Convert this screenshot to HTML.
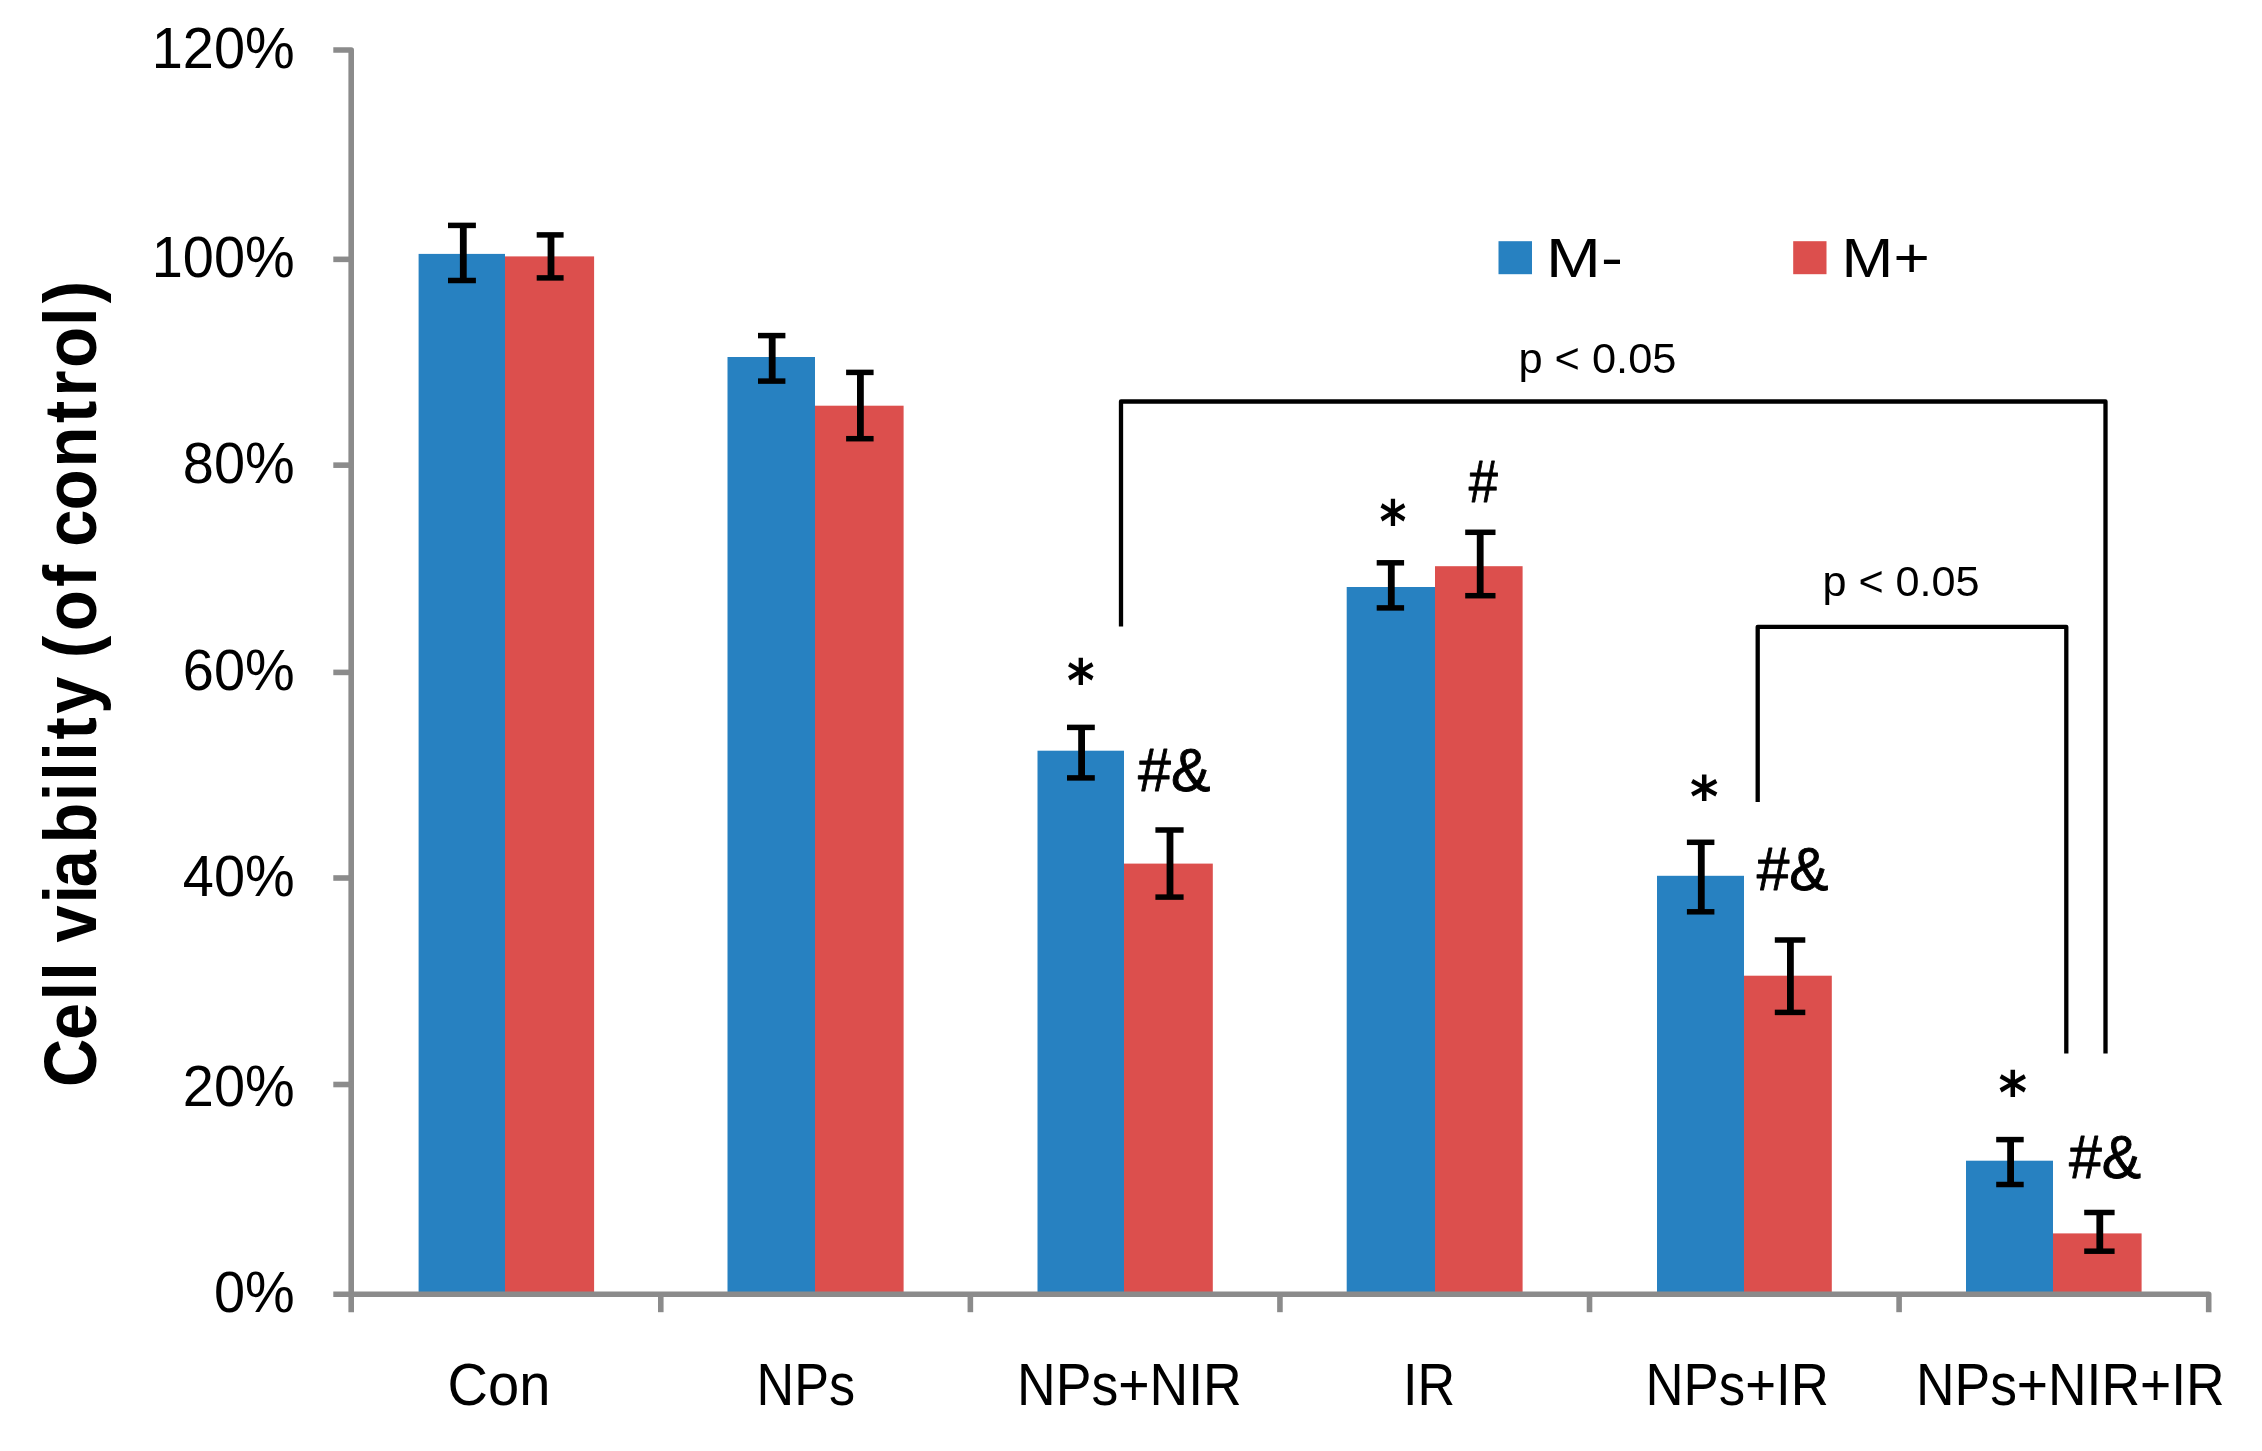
<!DOCTYPE html>
<html lang="en"><head><meta charset="utf-8"><title>Cell viability chart</title>
<style>html,body{margin:0;padding:0;background:#fff}body{width:2262px;height:1451px;overflow:hidden}svg{display:block;filter:blur(0.6px)}text{fill:#000}.ls{font-family:"Liberation Sans",sans-serif}.lsb{font-family:"Liberation Sans",sans-serif;font-weight:bold}.dv{font-family:"DejaVu Sans","Liberation Sans",sans-serif}.dvb{font-family:"DejaVu Sans","Liberation Sans",sans-serif;font-weight:bold}</style></head><body>
<svg width="2262" height="1451" viewBox="0 0 2262 1451">
<rect width="2262" height="1451" fill="#fff"/>
<g id="bars">
<rect x="418.6" y="253.9" width="86.4" height="1040.4" fill="#2781C1"/>
<rect x="505" y="256.4" width="89.1" height="1037.9" fill="#DC4F4D"/>
<rect x="727.5" y="357.0" width="87.5" height="937.3" fill="#2781C1"/>
<rect x="815" y="405.7" width="88.6" height="888.6" fill="#DC4F4D"/>
<rect x="1037.5" y="750.7" width="86.5" height="543.6" fill="#2781C1"/>
<rect x="1124" y="863.6" width="88.8" height="430.7" fill="#DC4F4D"/>
<rect x="1346.7" y="587.0" width="88.3" height="707.3" fill="#2781C1"/>
<rect x="1435" y="566.2" width="87.6" height="728.1" fill="#DC4F4D"/>
<rect x="1657.0" y="875.8" width="87.0" height="418.5" fill="#2781C1"/>
<rect x="1744" y="975.7" width="87.8" height="318.6" fill="#DC4F4D"/>
<rect x="1966.0" y="1160.7" width="87.0" height="133.6" fill="#2781C1"/>
<rect x="2053" y="1233.4" width="88.6" height="60.9" fill="#DC4F4D"/>
</g>
<g id="axes" stroke="#8b8b8b" stroke-width="5.6" fill="none" stroke-linejoin="round">
<polyline points="333.3,50.00 351.2,50.00 351.2,1312.2"/>
<polyline points="333.3,1294.3 2208.7,1294.3 2208.7,1312.2"/>
<line x1="333.3" y1="1084.50" x2="351.2" y2="1084.50"/>
<line x1="333.3" y1="878.00" x2="351.2" y2="878.00"/>
<line x1="333.3" y1="672.40" x2="351.2" y2="672.40"/>
<line x1="333.3" y1="465.15" x2="351.2" y2="465.15"/>
<line x1="333.3" y1="259.35" x2="351.2" y2="259.35"/>
<line x1="660.78" y1="1294.3" x2="660.78" y2="1312.2"/>
<line x1="970.36" y1="1294.3" x2="970.36" y2="1312.2"/>
<line x1="1279.94" y1="1294.3" x2="1279.94" y2="1312.2"/>
<line x1="1589.52" y1="1294.3" x2="1589.52" y2="1312.2"/>
<line x1="1899.10" y1="1294.3" x2="1899.10" y2="1312.2"/>
</g>
<g id="errors" stroke="#000" fill="none">
<line x1="463.3" y1="225.4" x2="463.3" y2="280.5" stroke-width="6.8"/>
<line x1="448.0" y1="225.4" x2="475.9" y2="225.4" stroke-width="5.5"/>
<line x1="448.0" y1="280.5" x2="475.9" y2="280.5" stroke-width="5.5"/>
<line x1="551.0" y1="234.9" x2="551.0" y2="277.9" stroke-width="6.8"/>
<line x1="536.7" y1="234.9" x2="563.6" y2="234.9" stroke-width="5.5"/>
<line x1="536.7" y1="277.9" x2="563.6" y2="277.9" stroke-width="5.5"/>
<line x1="772.2" y1="335.6" x2="772.2" y2="381.1" stroke-width="6.8"/>
<line x1="758.0" y1="335.6" x2="785.4" y2="335.6" stroke-width="5.5"/>
<line x1="758.0" y1="381.1" x2="785.4" y2="381.1" stroke-width="5.5"/>
<line x1="860.4" y1="372.4" x2="860.4" y2="438.7" stroke-width="6.8"/>
<line x1="846.1" y1="372.4" x2="873.6" y2="372.4" stroke-width="5.5"/>
<line x1="846.1" y1="438.7" x2="873.6" y2="438.7" stroke-width="5.5"/>
<line x1="1081.6" y1="727.4" x2="1081.6" y2="777.9" stroke-width="6.8"/>
<line x1="1067.0" y1="727.4" x2="1094.8" y2="727.4" stroke-width="5.5"/>
<line x1="1067.0" y1="777.9" x2="1094.8" y2="777.9" stroke-width="5.5"/>
<line x1="1170.0" y1="830.0" x2="1170.0" y2="897.1" stroke-width="6.8"/>
<line x1="1155.4" y1="830.0" x2="1183.6" y2="830.0" stroke-width="5.5"/>
<line x1="1155.4" y1="897.1" x2="1183.6" y2="897.1" stroke-width="5.5"/>
<line x1="1391.3" y1="562.8" x2="1391.3" y2="607.9" stroke-width="6.8"/>
<line x1="1376.7" y1="562.8" x2="1404.1" y2="562.8" stroke-width="5.5"/>
<line x1="1376.7" y1="607.9" x2="1404.1" y2="607.9" stroke-width="5.5"/>
<line x1="1480.2" y1="532.3" x2="1480.2" y2="595.7" stroke-width="6.8"/>
<line x1="1465.2" y1="532.3" x2="1495.5" y2="532.3" stroke-width="5.5"/>
<line x1="1465.2" y1="595.7" x2="1495.5" y2="595.7" stroke-width="5.5"/>
<line x1="1701.3" y1="842.3" x2="1701.3" y2="911.8" stroke-width="6.8"/>
<line x1="1686.9" y1="842.3" x2="1714.4" y2="842.3" stroke-width="5.5"/>
<line x1="1686.9" y1="911.8" x2="1714.4" y2="911.8" stroke-width="5.5"/>
<line x1="1790.4" y1="940.0" x2="1790.4" y2="1012.4" stroke-width="6.8"/>
<line x1="1774.8" y1="940.0" x2="1805.3" y2="940.0" stroke-width="5.5"/>
<line x1="1774.8" y1="1012.4" x2="1805.3" y2="1012.4" stroke-width="5.5"/>
<line x1="2010.6" y1="1139.6" x2="2010.6" y2="1184.5" stroke-width="6.8"/>
<line x1="1996.2" y1="1139.6" x2="2023.7" y2="1139.6" stroke-width="5.5"/>
<line x1="1996.2" y1="1184.5" x2="2023.7" y2="1184.5" stroke-width="5.5"/>
<line x1="2099.8" y1="1212.5" x2="2099.8" y2="1251.2" stroke-width="6.8"/>
<line x1="2084.2" y1="1212.5" x2="2114.6" y2="1212.5" stroke-width="5.5"/>
<line x1="2084.2" y1="1251.2" x2="2114.6" y2="1251.2" stroke-width="5.5"/>
</g>
<g id="brackets" stroke="#000" stroke-width="4.3" fill="none" stroke-linejoin="round">
<polyline points="1121,626.6 1121,401.5 2105.5,401.5 2105.5,1053.4"/>
<polyline points="1757.7,801.9 1757.7,626.8 2066.3,626.8 2066.3,1053.4"/>
</g>
<g id="ylabels">
<text class="ls" transform="translate(213.90 1312.22) scale(0.9698 1)" font-size="57.63" >0%</text>
<text class="ls" transform="translate(182.83 1105.62) scale(0.9698 1)" font-size="57.63" >20%</text>
<text class="ls" transform="translate(182.83 895.82) scale(0.9698 1)" font-size="57.63" >40%</text>
<text class="ls" transform="translate(182.83 690.02) scale(0.9698 1)" font-size="57.63" >60%</text>
<text class="ls" transform="translate(182.83 482.92) scale(0.9698 1)" font-size="57.63" >80%</text>
<text class="ls" transform="translate(151.75 276.92) scale(0.9698 1)" font-size="57.63" >100%</text>
<text class="ls" transform="translate(151.75 68.12) scale(0.9698 1)" font-size="57.63" >120%</text>
</g>
<g id="xlabels">
<text class="ls" transform="translate(447.50 1405.00) scale(0.9564 1)" font-size="58.60" >Con</text>
<text class="ls" transform="translate(756.62 1405.00) scale(0.8898 1)" font-size="58.60" >NPs</text>
<text class="ls" transform="translate(1017.01 1405.00) scale(0.9145 1)" font-size="58.60" >NPs+NIR</text>
<text class="ls" transform="translate(1403.01 1405.00) scale(0.8889 1)" font-size="58.60" >IR</text>
<text class="ls" transform="translate(1645.47 1405.00) scale(0.9007 1)" font-size="58.60" >NPs+IR</text>
<text class="ls" transform="translate(1915.92 1405.00) scale(0.9118 1)" font-size="58.60" >NPs+NIR+IR</text>
</g>
<g id="legend">
<rect x="1498.5" y="241.2" width="33.5" height="33" fill="#2781C1"/>
<rect x="1793.2" y="241.2" width="33.3" height="33" fill="#DC4F4D"/>
<text class="ls" transform="translate(1546.10 277.30) scale(1.1988 1)" font-size="54.94" >M-</text>
<text class="ls" transform="translate(1841.60 277.30) scale(1.1323 1)" font-size="54.94" >M+</text>
</g>
<g id="pvalues">
<text class="ls" transform="translate(1518.42 373.48) scale(1.0236 1)" font-size="42.38" >p &lt; 0.05</text>
<text class="ls" transform="translate(1822.44 596.41) scale(1.0209 1)" font-size="42.27" >p &lt; 0.05</text>
</g>
<g id="symbols">
<text class="ls" transform="translate(1468.69 501.60) scale(0.8978 1)" font-size="58.33" stroke="#000" stroke-width="0.9" stroke-linejoin="round">#</text>
<text class="ls" transform="translate(1138.06 790.60) scale(0.9823 1)" font-size="60.20" stroke="#000" stroke-width="0.9" stroke-linejoin="round">#&amp;</text>
<text class="ls" transform="translate(1756.67 890.30) scale(0.9754 1)" font-size="60.20" stroke="#000" stroke-width="0.9" stroke-linejoin="round">#&amp;</text>
<text class="ls" transform="translate(2068.96 1177.80) scale(0.9796 1)" font-size="60.20" stroke="#000" stroke-width="0.9" stroke-linejoin="round">#&amp;</text>
<text class="dvb" transform="translate(1379.47 541.78) scale(0.8842 1)" font-size="58.19" >*</text>
<text class="dvb" transform="translate(1067.05 701.38) scale(0.9056 1)" font-size="58.19" >*</text>
<text class="dvb" transform="translate(1690.11 816.70) scale(0.9627 1)" font-size="56.47" >*</text>
<text class="dvb" transform="translate(1998.51 1112.82) scale(0.9412 1)" font-size="57.97" >*</text>
</g>
<text class="lsb" transform="translate(96.2 0) rotate(-90) scale(0.8900 1)" font-size="75.0" x="-1221.3 -1168.6 -1124.2 -1102.1 -1082.1 -1059.1 -1015.3 -996.8 -947.7 -900.3 -877.4 -854.9 -831.0 -802.0 -782.0 -739.4 -709.0 -659.5 -639.5 -614.4 -573.3 -525.4 -475.3 -445.6 -413.1 -366.4 -340.8" y="0">Cell viability (of control)</text>
</svg></body></html>
